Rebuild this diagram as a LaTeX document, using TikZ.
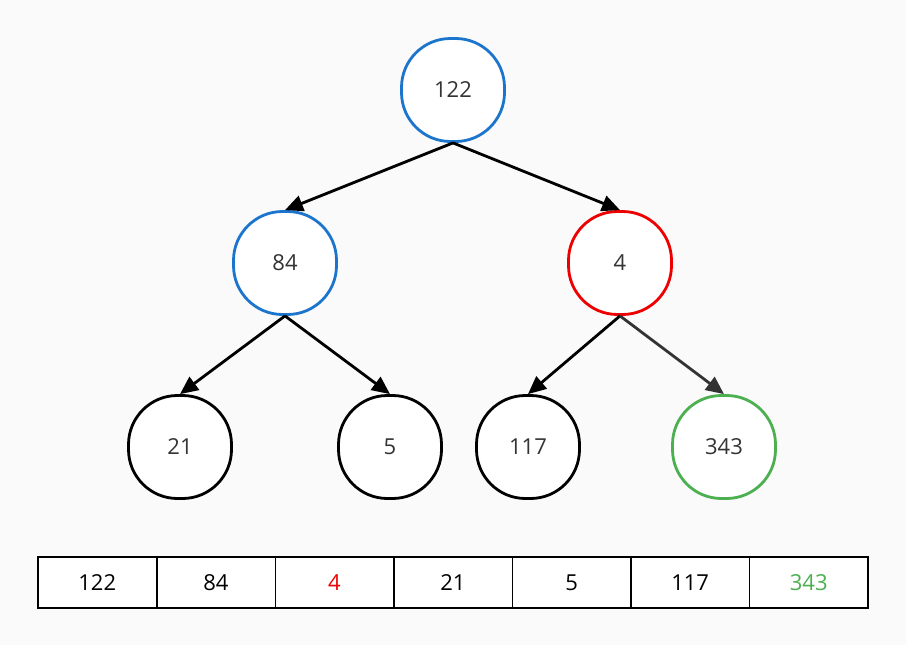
\documentclass[tikz,border=0pt]{standalone}
\usepackage{fontspec}
\setmainfont{Open Sans}
\usetikzlibrary{arrows.meta}
\definecolor{bg}{HTML}{FAFAFA}
\definecolor{blu}{HTML}{1C75CC}
\definecolor{rd}{HTML}{EE0000}
\definecolor{grn}{HTML}{4CAF50}
\definecolor{txt}{HTML}{333333}
\tikzset{
  knot/.style={draw, line width=2.8pt, fill=white, rectangle, rounded corners=49pt,
    minimum width=103pt, minimum height=103pt, text=txt, font=\fontsize{22}{26}\selectfont},
  edge/.style={line width=2.8pt, -{Triangle[length=18pt,width=16pt]}},
  cell/.style={fill=white, minimum width=118.6pt, minimum height=51pt,
    inner sep=0pt, font=\fontsize{22}{26}\selectfont},
  rule/.style={line width=1.5pt}}

\begin{document}
\begin{tikzpicture}[x=1pt, y=-1pt]
\useasboundingbox[fill=bg] (0,0) rectangle (906,645);
% tree
\node[knot, draw=blu] (r) at (453,90) {122};
\node[knot, draw=blu] (a) at (285,263) {84};
\node[knot, draw=rd] (b) at (620,263) {4};
\node[knot] (a1) at (180,447) {21};
\node[knot] (a2) at (390,447) {5};
\node[knot] (b1) at (528,447) {117};
\node[knot, draw=grn] (b2) at (724,447) {343};
\draw[edge] (r.south) -- (a.north);
\draw[edge] (r.south) -- (b.north);
\draw[edge] (a.south) -- (a1.north);
\draw[edge] (a.south) -- (a2.north);
\draw[edge] (b.south) -- (b1.north);
\draw[edge, draw=txt, fill=txt] (b.south) -- (b2.north);
% array
\foreach \i/\v/\c in {1/122/black, 2/84/black, 3/4/rd, 4/21/black, 5/5/black, 6/117/black, 7/343/grn}
  \node[cell, text=\c] (c\i) at (38+118.57*\i-59.29,582.5) {\v};
\draw[rule] (c1.north west) rectangle (c7.south east);
\foreach \i in {1,...,6}
  \draw[rule] (c\i.north east) -- (c\i.south east);
\end{tikzpicture}
\end{document}
